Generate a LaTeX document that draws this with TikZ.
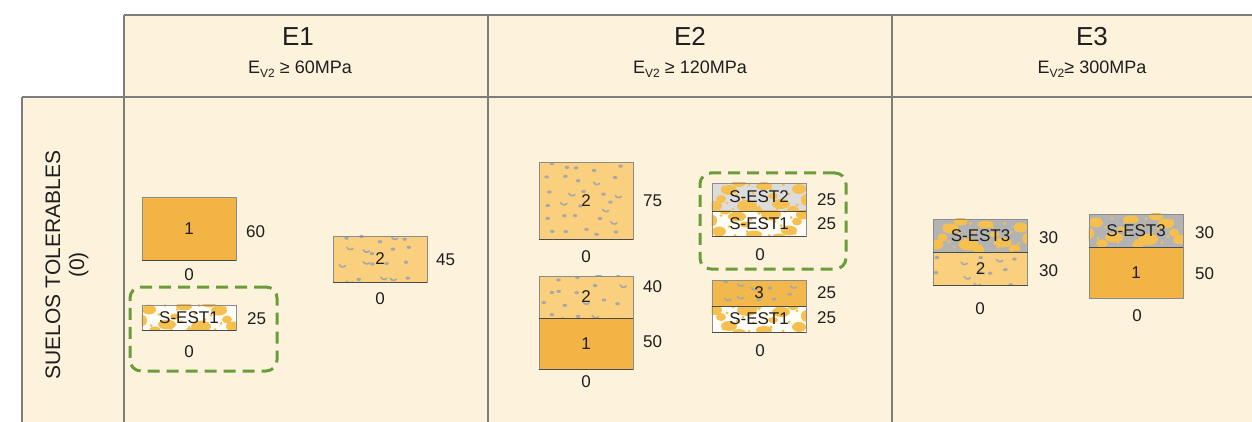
\documentclass[tikz,border=0pt]{standalone}
\usepackage{fontspec}
\setmainfont{Liberation Sans}
\usetikzlibrary{calc}

\definecolor{cream}{HTML}{FDF3DC}
\definecolor{rule}{HTML}{7D7D7D}
\definecolor{ink}{HTML}{1E1E1E}
\definecolor{frame}{HTML}{8C8C8C}
\definecolor{edge}{HTML}{4A4A4A}
\definecolor{soilone}{HTML}{F2B545}
\definecolor{soiltwo}{HTML}{FAD07E}
\definecolor{soilthree}{HTML}{F3B84C}
\definecolor{stoneg}{HTML}{A8A8A8}
\definecolor{estone}{HTML}{FFFDF7}
\definecolor{esttwo}{HTML}{DCDCDC}
\definecolor{estthree}{HTML}{B3B3B3}
\definecolor{blobc}{HTML}{F6C051}
\definecolor{grn}{HTML}{6A9D3A}

\pgfdeclarelayer{paper}
\pgfdeclarelayer{under}
\pgfsetlayers{paper,under,main}

% subscript used in the header captions
\newcommand\lowidx[1]{\raisebox{-3.5pt}{\fontsize{12}{12}\selectfont #1}}

% gravel texture: grey grains and small curved chips
\newcommand\gravelpat{%
  \foreach \gx in {-39,-22,...,40}{
    \foreach \gy in {-34,-21,...,40}{
      \pgfmathsetmacro\dx{\gx+6*rand}
      \pgfmathsetmacro\dy{\gy+4*rand}
      \pgfmathsetmacro\kind{rnd}
      \ifdim\kind pt<0.28pt
        \draw[stoneg,line width=1.6pt,line cap=round]
          (\dx,\dy) arc[start angle=160,end angle=40,radius=3.6];
      \else
        \fill[stoneg] (\dx,\dy) ellipse [x radius=2.3,y radius=1.6];
      \fi
    }}}

% stabilised soil texture: orange lumps and fine grains;
% #1 and #2 mirror the layout so neighbouring layers differ
\newcommand\lumppat[2]{%
  \begin{scope}[xscale=#1,yscale=#2]
    \foreach \lx/\ly/\lr/\ls in {-40/-8/7/5, -22/7/9/5, -5/-11/8/4,
        12/9/10/6, 30/-7/8/5, 44/9/7/5, -34/13/6/4, 20/-14/7/4,
        -14/-1/5/3, 38/2/5/4, 2/14/6/4, -47/3/5/6}
      \fill[blobc] (\lx,\ly) ellipse [x radius=\lr,y radius=\ls];
    \foreach \lx/\ly in {-44/-10, -30/-3, -18/12, -8/4, 6/-4, 16/2,
        26/12, 36/-10, 42/6, -38/8, -24/-12, 0/10, 10/-12, 22/-2,
        32/6, -12/-8}
      \fill[blobc] (\lx,\ly) circle [radius=1.5];
  \end{scope}}

% fill and texture of one layer, drawn beneath its outline and label
\newcommand\soilfill[3]{%
  \begin{pgfonlayer}{under}
    \begin{scope}
      \clip (#1.south west) rectangle (#1.north east);
      \fill[#2] (#1.south west) rectangle (#1.north east);
      \begin{scope}[shift={(#1.center)}]#3\end{scope}
    \end{scope}
  \end{pgfonlayer}}

\tikzset{
  soil/.style={draw=frame,line width=0.8pt,minimum width=94pt,inner sep=0pt,
    text=ink,font=\fontsize{17}{17}\selectfont},
  num/.style={text=ink,inner sep=0pt,font=\fontsize{17}{17}\selectfont},
  base line/.style={draw=edge,line width=1.4pt},
  grid line/.style={draw=rule,line width=1.5pt},
  dashbox/.style={draw=grn,line width=3pt,dash pattern=on 12pt off 7pt,
    rounded corners=11pt,inner sep=0pt},
  headtxt/.style={text=ink,inner sep=0pt,font=\fontsize{26}{26}\selectfont},
  subtxt/.style={text=ink,inner sep=0pt,font=\fontsize{18}{18}\selectfont},
}

\begin{document}
\begin{tikzpicture}[x=1pt,y=-1pt]
\pgfmathsetseed{12}
\useasboundingbox (0,0) rectangle (1252,422);

% table background
\begin{pgfonlayer}{paper}
  \fill[white] (0,0) rectangle (1252,422);
  \fill[cream] (124,15) rectangle (1252,422);
  \fill[cream] (22,97) rectangle (124,422);
\end{pgfonlayer}

% table rules
\coordinate (tl) at (124,15);
\coordinate (tr) at (1252,15);
\coordinate (ml) at (22,97);
\coordinate (mr) at (1252,97);
\coordinate (c0t) at (124,15);  \coordinate (c0b) at (124,422);
\coordinate (c1t) at (488,15);  \coordinate (c1b) at (488,422);
\coordinate (c2t) at (892,15);  \coordinate (c2b) at (892,422);
\coordinate (lt) at (22,97);    \coordinate (lb) at (22,422);
\draw[grid line] (tl) -- (tr);
\draw[grid line] (ml) -- (mr);
\draw[grid line] (c0t) -- (c0b);
\draw[grid line] (c1t) -- (c1b);
\draw[grid line] (c2t) -- (c2b);
\draw[grid line] (lt) -- (lb);

% column headers
\node[headtxt,anchor=base] (hE1) at (298,46) {E1};
\node[subtxt,anchor=base] (sE1) at (300,74) {E\lowidx{V2} ≥ 60MPa};
\node[headtxt,anchor=base] (hE2) at (690,46) {E2};
\node[subtxt,anchor=base] (sE2) at (690,74) {E\lowidx{V2} ≥ 120MPa};
\node[headtxt,anchor=base] (hE3) at (1092,46) {E3};
\node[subtxt,anchor=base] (sE3) at (1092,74) {E\lowidx{V2}≥ 300MPa};

% row header
\node[rotate=90,align=center,text=ink,inner sep=0pt,
      font=\fontsize{21}{24}\selectfont] (row) at (67,265)
      {SUELOS TOLERABLES\\(0)};

% ---------------- E1 ----------------
\node[soil,minimum height=63pt] (a1) at (189,228.5) {1};
\soilfill{a1}{soilone}{}
\draw[base line] (a1.south west) -- (a1.south east);
\node[num,anchor=base west] (a1t) at (246,237) {60};
\node[num,anchor=base] (a1z) at (189,280) {0};

\node[dashbox,minimum width=147pt,minimum height=84pt] (g1) at (203.5,329) {};
\node[soil,minimum height=25pt] (a2) at (189,317.5) {S-EST1};
\soilfill{a2}{estone}{\lumppat{1}{1}}
\draw[base line] (a2.south west) -- (a2.south east);
\node[num,anchor=base west] (a2t) at (247,324) {25};
\node[num,anchor=base] (a2z) at (189,357) {0};

\node[soil,minimum height=46pt] (a3) at (380,259) {2};
\soilfill{a3}{soiltwo}{\gravelpat}
\draw[base line] (a3.south west) -- (a3.south east);
\node[num,anchor=base west] (a3t) at (436,265) {45};
\node[num,anchor=base] (a3z) at (380,304) {0};

% ---------------- E2 ----------------
\node[soil,minimum height=77pt] (b1) at (586,200.5) {2};
\soilfill{b1}{soiltwo}{\gravelpat}
\draw[base line] (b1.south west) -- (b1.south east);
\node[num,anchor=base west] (b1t) at (643,207) {75};
\node[num,anchor=base] (b1z) at (586,262) {0};

\node[soil,minimum height=42pt] (b2) at (586,297) {2};
\soilfill{b2}{soiltwo}{\gravelpat}
\node[soil,minimum height=51pt] (b3) at (586,343.5) {1};
\soilfill{b3}{soilone}{}
\draw[base line] (b2.south west) -- (b2.south east);
\draw[base line] (b3.south west) -- (b3.south east);
\node[num,anchor=base west] (b2t) at (643,292) {40};
\node[num,anchor=base west] (b3t) at (643,347) {50};
\node[num,anchor=base] (b3z) at (586,387) {0};

\node[dashbox,minimum width=146pt,minimum height=96pt] (g2) at (773,221) {};
\node[soil,minimum height=28pt] (b4) at (759,197) {S-EST2};
\soilfill{b4}{esttwo}{\lumppat{-1}{1}}
\node[soil,minimum height=25pt] (b5) at (759,223.5) {S-EST1};
\soilfill{b5}{estone}{\lumppat{1}{-1}}
\draw[base line] (b4.south west) -- (b4.south east);
\draw[base line] (b5.south west) -- (b5.south east);
\node[num,anchor=base west] (b4t) at (817,205) {25};
\node[num,anchor=base west] (b5t) at (817,229) {25};
\node[num,anchor=base] (b5z) at (760,260) {0};

\node[soil,minimum height=26pt] (b6) at (759,293) {3};
\soilfill{b6}{soilthree}{\gravelpat}
\node[soil,minimum height=26pt] (b7) at (759,319) {S-EST1};
\soilfill{b7}{estone}{\lumppat{-1}{-1}}
\draw[base line] (b6.south west) -- (b6.south east);
\draw[base line] (b7.south west) -- (b7.south east);
\node[num,anchor=base west] (b6t) at (817,298) {25};
\node[num,anchor=base west] (b7t) at (817,323) {25};
\node[num,anchor=base] (b7z) at (760,356) {0};

% ---------------- E3 ----------------
\node[soil,minimum height=33pt] (c1) at (980.5,235.5) {S-EST3};
\soilfill{c1}{estthree}{\lumppat{-1}{1}}
\node[soil,minimum height=33pt] (c2) at (980.5,268.5) {2};
\soilfill{c2}{soiltwo}{\gravelpat}
\draw[base line] (c1.south west) -- (c1.south east);
\draw[base line] (c2.south west) -- (c2.south east);
\node[num,anchor=base west] (c1t) at (1039,243) {30};
\node[num,anchor=base west] (c2t) at (1039,276) {30};
\node[num,anchor=base] (c2z) at (980,314) {0};

\node[soil,minimum height=33pt] (c3) at (1136,230.5) {S-EST3};
\soilfill{c3}{estthree}{\lumppat{1}{1}}
\node[soil,minimum height=51pt] (c4) at (1136,272.5) {1};
\soilfill{c4}{soilone}{}
\draw[base line] (c3.south west) -- (c3.south east);
\node[num,anchor=base west] (c3t) at (1195,238) {30};
\node[num,anchor=base west] (c4t) at (1195,279) {50};
\node[num,anchor=base] (c4z) at (1137,321) {0};
\end{tikzpicture}
\end{document}
